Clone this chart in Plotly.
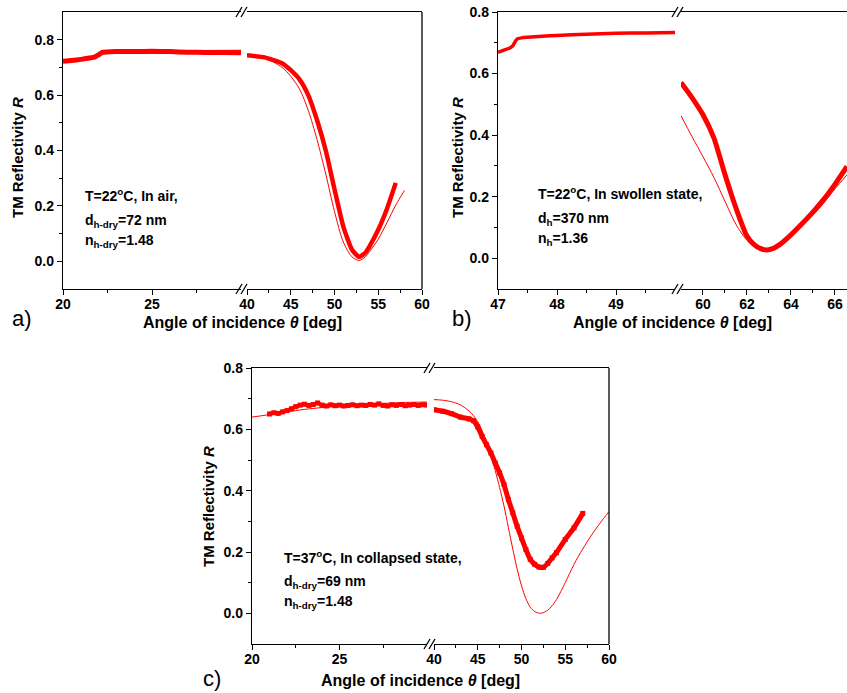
import plotly.graph_objects as go

W, H = 847, 693

# ---------------- data ----------------
# Panel a) T=22C in air
a_exp_L_x = [20.0, 20.5, 21.0, 21.5, 21.8, 22.0, 22.2, 22.5, 23.0, 24.0, 25.0, 26.0, 27.0, 28.0, 29.0, 30.0]
a_exp_L_y = [0.722, 0.725, 0.729, 0.734, 0.738, 0.745, 0.754, 0.756, 0.757, 0.757, 0.758, 0.757, 0.755, 0.754, 0.754, 0.753]
a_fit_L_x = [20.0, 21.0, 21.8, 22.2, 23.0, 25.0, 27.0, 30.0]
a_fit_L_y = [0.723, 0.730, 0.738, 0.755, 0.759, 0.761, 0.761, 0.762]
a_exp_R_x = [40, 42, 44, 45, 46, 47, 48, 49, 50, 51, 52, 52.8, 53.5, 54, 55, 56, 57]
a_exp_R_y = [0.744, 0.736, 0.715, 0.690, 0.657, 0.600, 0.510, 0.400, 0.260, 0.126, 0.042, 0.016, 0.030, 0.054, 0.114, 0.190, 0.283]
a_fit_R_x = [40, 42, 44, 45, 46, 47, 48, 49, 50, 51, 52, 52.8, 53.5, 54, 55, 56, 57, 58]
a_fit_R_y = [0.748, 0.735, 0.700, 0.668, 0.622, 0.545, 0.440, 0.315, 0.180, 0.070, 0.016, 0.003, 0.015, 0.035, 0.080, 0.140, 0.203, 0.256]

# Panel b) T=22C swollen
b_exp_L_x = [47.0, 47.1, 47.2, 47.25, 47.28, 47.32, 47.4, 47.5, 47.75, 48.0, 48.5, 49.0, 49.5, 50.0]
b_exp_L_y = [0.669, 0.676, 0.683, 0.690, 0.700, 0.712, 0.716, 0.718, 0.721, 0.724, 0.728, 0.731, 0.732, 0.733]
b_exp_R_x = [59.0, 59.5, 60.0, 60.5, 61.0, 61.5, 62.0, 62.3, 62.6, 62.9, 63.2, 63.5, 64.0, 64.5, 65.0, 65.5, 66.0, 66.55]
b_exp_R_y = [0.571, 0.522, 0.466, 0.390, 0.272, 0.163, 0.072, 0.046, 0.032, 0.027, 0.032, 0.045, 0.076, 0.112, 0.150, 0.192, 0.240, 0.298]
b_fit_R_x = [59.0, 59.5, 60.0, 60.5, 61.0, 61.5, 62.0, 62.4, 62.8, 63.2, 63.6, 64.0, 64.5, 65.0, 65.5, 66.0, 66.55]
b_fit_R_y = [0.463, 0.395, 0.330, 0.262, 0.185, 0.110, 0.058, 0.035, 0.027, 0.033, 0.050, 0.072, 0.105, 0.140, 0.180, 0.225, 0.271]

# Panel c) T=37C collapsed
c_exp_L_x = [21.0, 21.25, 21.5, 21.75, 22.0, 22.25, 22.5, 22.75, 23.0, 23.25, 23.5, 23.75, 24.0, 24.25,
             24.5, 24.75, 25.0, 25.25, 25.5, 25.75, 26.0, 26.25, 26.5, 26.75, 27.0, 27.25, 27.5, 27.75,
             28.0, 28.25, 28.5, 28.75, 29.0, 29.25, 29.5, 29.75, 30.0]
c_exp_L_y = [0.650, 0.654, 0.652, 0.657, 0.661, 0.667, 0.674, 0.679, 0.682, 0.678, 0.681, 0.686, 0.679,
             0.676, 0.680, 0.677, 0.679, 0.676, 0.678, 0.680, 0.677, 0.679, 0.678, 0.681, 0.679, 0.683,
             0.678, 0.676, 0.680, 0.678, 0.681, 0.677, 0.679, 0.681, 0.678, 0.680, 0.679]
c_fit_L_x = [20, 21, 22, 23, 24, 25, 26, 27, 28, 29, 30]
c_fit_L_y = [0.640, 0.648, 0.657, 0.665, 0.671, 0.676, 0.680, 0.683, 0.686, 0.688, 0.689]
c_exp_R_x = [40, 41, 42, 43, 44, 44.5, 45, 45.5, 46, 46.5, 47, 47.5, 48, 48.5, 49, 49.5, 50, 50.5,
             51, 51.5, 52, 52.5, 53, 53.5, 54, 55, 56, 57]
c_exp_R_y = [0.664, 0.659, 0.651, 0.640, 0.634, 0.628, 0.608, 0.577, 0.550, 0.523, 0.490, 0.458, 0.420,
             0.371, 0.328, 0.284, 0.246, 0.208, 0.176, 0.160, 0.151, 0.150, 0.163, 0.181, 0.198, 0.241,
             0.279, 0.326]
c_fit_R_x = [40, 41, 42, 43, 44, 44.5, 45, 45.5, 46, 46.5, 47, 47.5, 48, 48.5, 49, 49.5, 50, 50.5,
             51, 51.5, 52.2, 53, 53.5, 54, 55, 56, 57, 58, 59, 60]
c_fit_R_y = [0.697, 0.695, 0.690, 0.680, 0.660, 0.645, 0.625, 0.595, 0.560, 0.515, 0.465, 0.410, 0.350,
             0.280, 0.210, 0.145, 0.090, 0.048, 0.020, 0.006, 0.000, 0.010, 0.025, 0.045, 0.100, 0.160,
             0.210, 0.255, 0.295, 0.332]

# tick values
a_L_ticks, a_L_minor = [20, 25], [22.5, 27.5]
a_R_ticks, a_R_minor = [40, 45, 50, 55, 60], [42.5, 47.5, 52.5, 57.5]
b_L_ticks, b_L_minor = [47, 48, 49], [47.5, 48.5, 49.5]
b_R_ticks, b_R_minor = [60, 62, 64, 66], [61, 63, 65]
y_ticks, y_minor = [0.0, 0.2, 0.4, 0.6, 0.8], [0.1, 0.3, 0.5, 0.7]

RED = "#ff0000"
FONT = "Liberation Sans, Arial, sans-serif"


def px(x):
    return x / W


def py(y):
    return 1 - y / H


fig = go.Figure()


def add_exp(x, y, xa, ya, width=5, markers=False, msize=5):
    fig.add_trace(go.Scatter(
        x=x, y=y, xaxis=xa, yaxis=ya,
        mode="lines+markers" if markers else "lines",
        line=dict(color=RED, width=width, shape="spline", smoothing=0.5),
        marker=dict(symbol="square", size=msize, color=RED),
        showlegend=False, hoverinfo="skip", cliponaxis=True))


def add_fit(x, y, xa, ya):
    fig.add_trace(go.Scatter(
        x=x, y=y, xaxis=xa, yaxis=ya, mode="lines",
        line=dict(color=RED, width=1, shape="spline", smoothing=0.8),
        showlegend=False, hoverinfo="skip"))


# panel a
add_fit(a_fit_L_x, a_fit_L_y, "x", "y")
add_exp(a_exp_L_x, a_exp_L_y, "x", "y", width=5)
add_exp(a_exp_R_x, a_exp_R_y, "x2", "y", width=4.5)
add_fit(a_fit_R_x, a_fit_R_y, "x2", "y")
# panel b
add_exp(b_exp_L_x, b_exp_L_y, "x3", "y2", width=3.5)
add_exp(b_exp_R_x, b_exp_R_y, "x4", "y2", width=5)
add_fit(b_fit_R_x, b_fit_R_y, "x4", "y2")
# panel c
add_fit(c_fit_L_x, c_fit_L_y, "x5", "y3")
add_exp(c_exp_L_x, c_exp_L_y, "x5", "y3", width=4, markers=True, msize=5)
add_exp(c_exp_R_x, c_exp_R_y, "x6", "y3", width=5, markers=True, msize=5)
add_fit(c_fit_R_x, c_fit_R_y, "x6", "y3")

tickfont = dict(family=FONT, size=14, color="black", weight="bold")


def xax(dom, rng, ticks, minor, anchor):
    return dict(domain=[px(dom[0]), px(dom[1])], range=rng, anchor=anchor, automargin=False,
                tickvals=ticks, ticktext=[str(t) for t in ticks],
                showline=True, linecolor="black", linewidth=1.3, mirror=True,
                ticks="outside", ticklen=5, tickwidth=1.2, tickcolor="black",
                ticklabelstandoff=-3,
                minor=dict(tickvals=minor, ticks="outside", ticklen=3, tickwidth=1.2, tickcolor="black"),
                showgrid=False, zeroline=False, tickfont=tickfont, fixedrange=True)


def yax(dom, rng, anchor):
    return dict(domain=[py(dom[1]), py(dom[0])], range=rng, anchor=anchor, automargin=False,
                tickvals=y_ticks, ticktext=["%.1f" % t for t in y_ticks],
                showline=True, linecolor="black", linewidth=1.3,
                ticks="outside", ticklen=5, tickwidth=1.2, tickcolor="black",
                minor=dict(tickvals=y_minor, ticks="outside", ticklen=3, tickwidth=1.2, tickcolor="black"),
                showgrid=False, zeroline=False, tickfont=tickfont, fixedrange=True)


layout = dict(
    width=W, height=H, autosize=False,
    margin=dict(l=0, r=0, t=0, b=0, pad=0, autoexpand=False),
    paper_bgcolor="white", plot_bgcolor="white",
    xaxis=xax((63, 241), [20, 30], a_L_ticks, a_L_minor, "y"),
    xaxis2=xax((247, 422), [40, 60], a_R_ticks, a_R_minor, "y"),
    yaxis=yax((12, 289), [-0.1, 0.9], "x"),
    xaxis3=xax((498, 675), [47, 50], b_L_ticks, b_L_minor, "y2"),
    xaxis4=xax((681, 847), [59, 66.55], b_R_ticks, b_R_minor, "y2"),
    yaxis2=yax((12, 289), [-0.1, 0.8], "x3"),
    xaxis5=xax((252, 427), [20, 30], a_L_ticks, a_L_minor, "y3"),
    xaxis6=xax((434, 609), [40, 60], a_R_ticks, a_R_minor, "y3"),
    yaxis3=yax((368, 644), [-0.1, 0.8], "x5"),
)
fig.update_layout(**layout)

shapes = []
# right borders
for xr, yt, yb in [(422, 12, 289), (609, 368, 644)]:
    shapes.append(dict(type="line", xref="paper", yref="paper", x0=px(xr), x1=px(xr),
                       y0=py(yb), y1=py(yt), line=dict(color="black", width=1.3)))
# break marks
for xs, yt, yb in [(236, 12, 289), (672, 12, 289), (424, 368, 644)]:
    for yy in (yt, yb):
        for dx in (0, 5):
            shapes.append(dict(type="line", xref="paper", yref="paper",
                               x0=px(xs + dx), y0=py(yy + 5), x1=px(xs + dx + 6), y1=py(yy - 5),
                               line=dict(color="black", width=1.3)))
fig.update_layout(shapes=shapes)

ann = []


def text(x, y, s, size=14, xanchor="left", angle=0, bold=True, yanchor="middle"):
    ann.append(dict(x=px(x), y=py(y), xref="paper", yref="paper", text=("<b>%s</b>" % s) if bold else s,
                    showarrow=False, xanchor=xanchor, yanchor=yanchor, textangle=angle,
                    font=dict(family=FONT, size=size, color="black")))


# axis titles
text(18, 158, "TM Reflectivity <i>R</i>", size=15, xanchor="center", angle=-90)
text(242, 322, "Angle of incidence <i>θ</i> [deg]", size=16, xanchor="center")
text(458, 158, "TM Reflectivity <i>R</i>", size=15, xanchor="center", angle=-90)
text(672, 322, "Angle of incidence <i>θ</i> [deg]", size=16, xanchor="center")
text(208, 507, "TM Reflectivity <i>R</i>", size=15, xanchor="center", angle=-90)
text(420, 680, "Angle of incidence <i>θ</i> [deg]", size=16, xanchor="center")

# panel labels
text(22, 318, "a)", size=22, xanchor="center", bold=False)
text(462, 318, "b)", size=22, xanchor="center", bold=False)
text(212, 678, "c)", size=22, xanchor="center", bold=False)

# in-plot annotations
text(83, 195, "T=22<sup>o</sup>C, In air,")
text(83, 221, "d<sub>h-dry</sub>=72 nm")
text(83, 241, "n<sub>h-dry</sub>=1.48")
text(536, 193, "T=22<sup>o</sup>C, In swollen state,")
text(536, 219, "d<sub>h</sub>=370 nm")
text(536, 239, "n<sub>h</sub>=1.36")
text(282, 557, "T=37<sup>o</sup>C, In collapsed state,")
text(282, 582, "d<sub>h-dry</sub>=69 nm")
text(282, 602, "n<sub>h-dry</sub>=1.48")

fig.update_layout(annotations=ann)

fig.write_html("out.html")
